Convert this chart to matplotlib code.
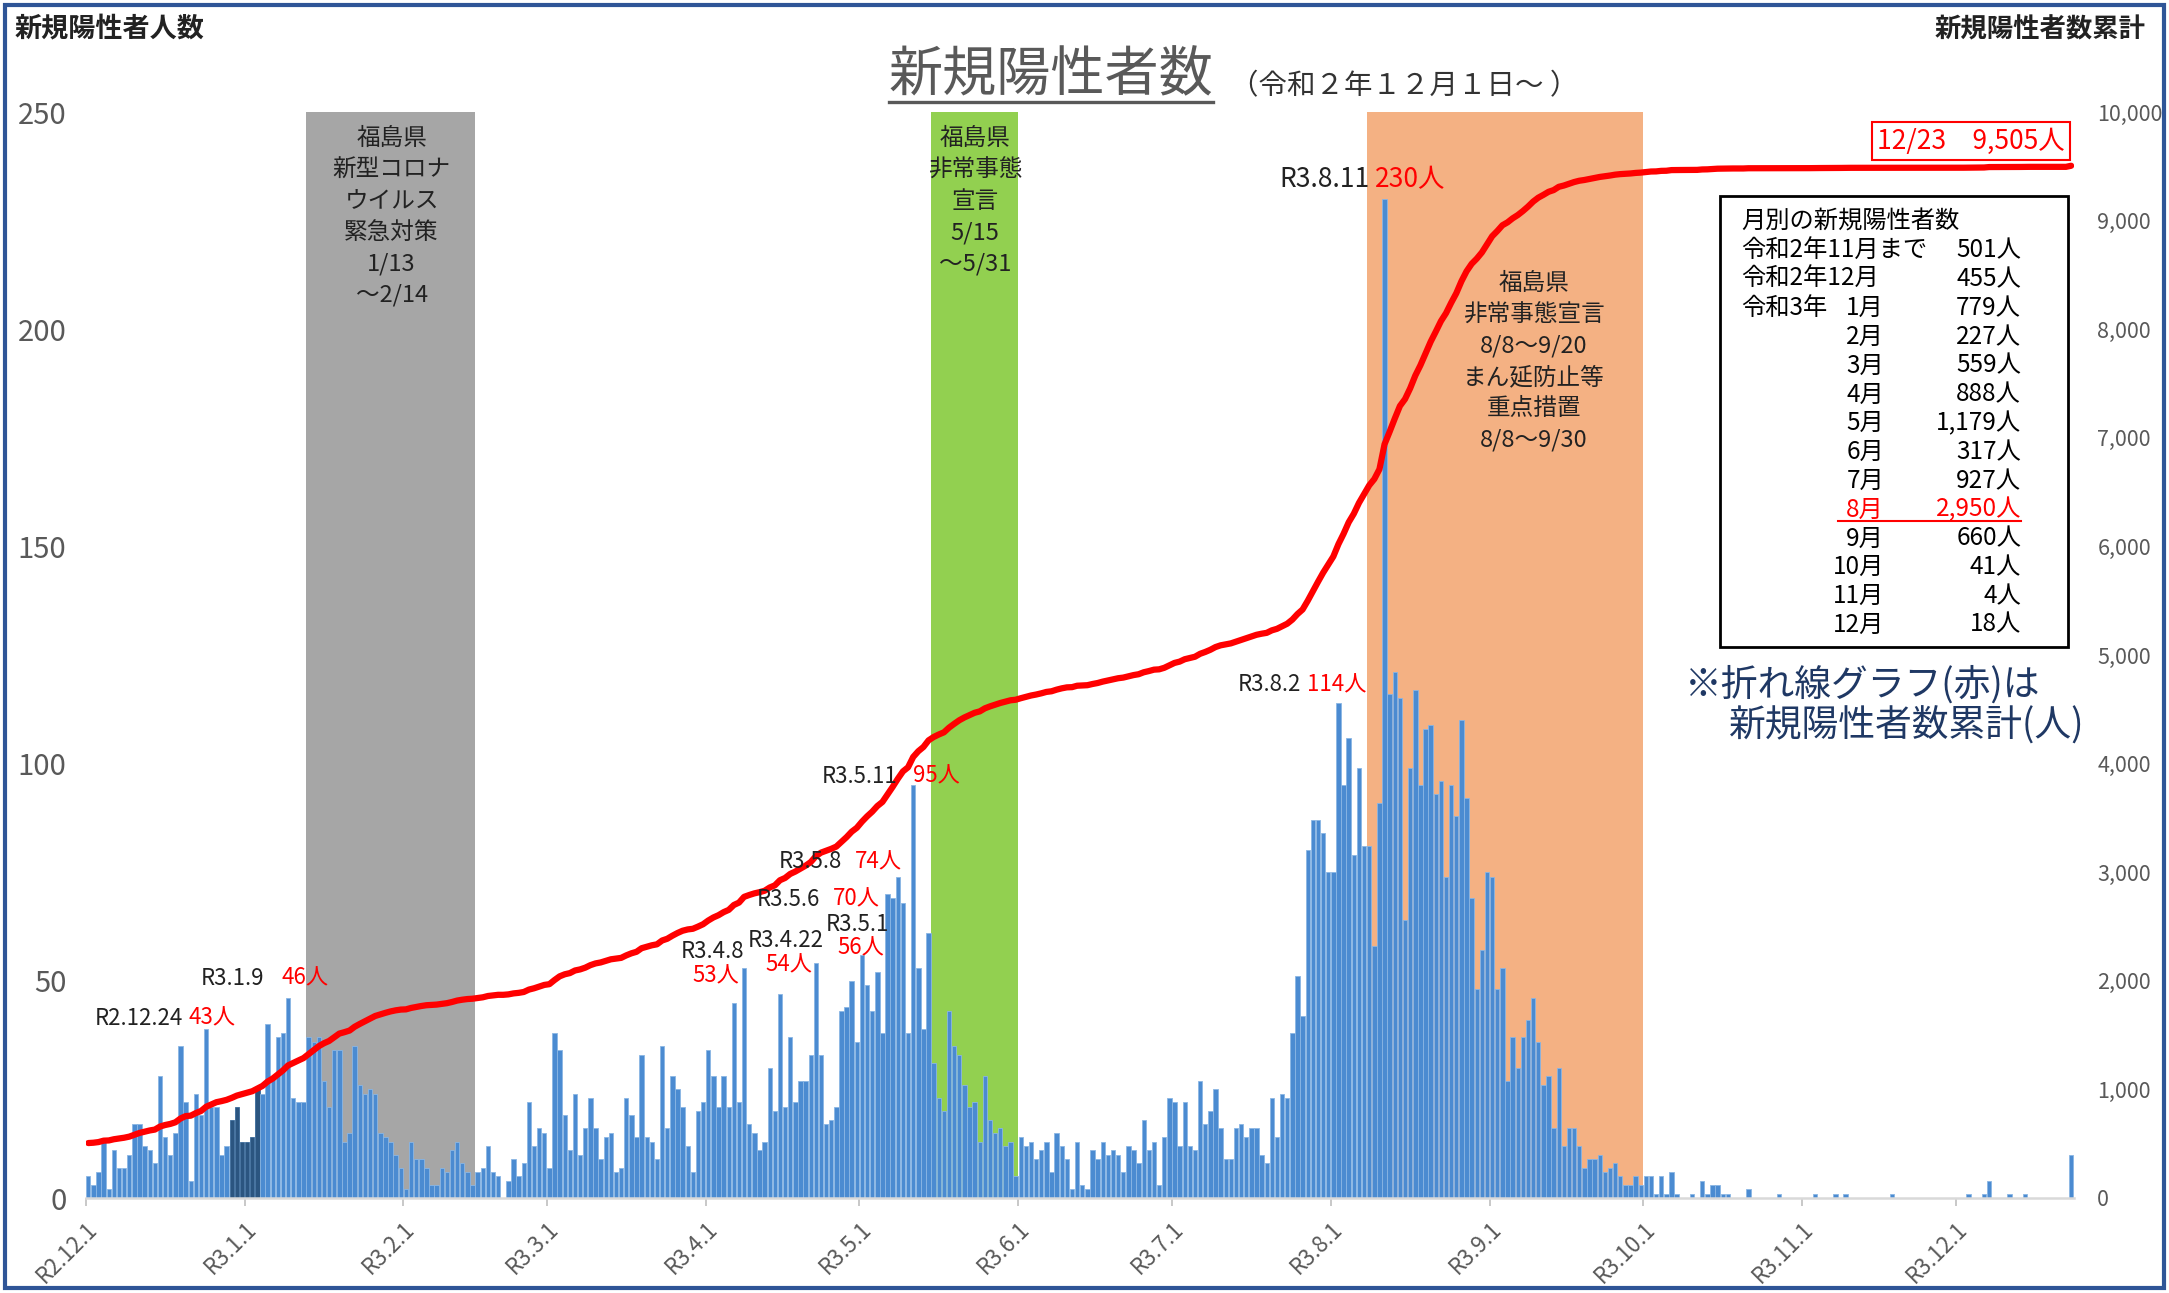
import numpy as np
import matplotlib
matplotlib.use('Agg')
import matplotlib.pyplot as plt
from matplotlib.patches import Rectangle
from matplotlib.lines import Line2D
from matplotlib.ticker import FuncFormatter

plt.rcParams['font.family'] = ['Noto Sans CJK JP', 'DejaVu Sans']

# daily new positives, R2.12.1 - R3.12.23
dec20 = [5, 3, 6, 13, 2, 11, 7, 7, 10, 17, 17, 12, 11, 8, 28, 14, 10, 15, 35, 22, 4, 24, 19, 39, 21, 21, 10, 12, 18, 21, 13]
jan21 = [13, 14, 25, 24, 40, 28, 37, 38, 46, 23, 22, 22, 37, 36, 37, 27, 21, 34, 34, 13, 15, 35, 26, 24, 25, 24, 15, 14, 13, 10, 7]
feb21 = [2, 13, 9, 9, 7, 3, 3, 7, 6, 11, 13, 8, 6, 3, 6, 7, 12, 6, 5, 0, 4, 9, 5, 8, 22, 12, 16, 15]
mar21 = [7, 38, 34, 19, 11, 24, 10, 16, 23, 16, 9, 14, 15, 6, 7, 23, 19, 14, 33, 14, 13, 9, 35, 16, 28, 25, 21, 12, 6, 20, 22]
apr21 = [34, 28, 21, 28, 21, 45, 22, 53, 17, 15, 11, 13, 30, 20, 47, 21, 37, 22, 27, 27, 33, 54, 33, 17, 18, 21, 43, 44, 50, 36]
may21 = [56, 49, 43, 52, 38, 70, 69, 74, 68, 38, 95, 53, 39, 61, 31, 23, 20, 43, 35, 33, 26, 21, 22, 13, 28, 18, 15, 16, 12, 13, 5]
jun21 = [14, 12, 13, 9, 11, 13, 6, 15, 12, 9, 2, 13, 3, 2, 11, 9, 13, 10, 11, 10, 6, 12, 11, 8, 18, 11, 13, 3, 14, 23]
jul21 = [22, 12, 22, 12, 11, 27, 17, 20, 25, 16, 9, 9, 16, 17, 14, 16, 16, 10, 8, 23, 14, 24, 23, 38, 51, 42, 80, 87, 87, 84, 75]
aug21 = [75, 114, 95, 106, 79, 99, 81, 81, 58, 91, 230, 116, 121, 115, 64, 99, 117, 95, 108, 109, 93, 96, 74, 95, 88, 110, 92, 69, 48, 57, 75]
sep21 = [74, 48, 53, 27, 37, 30, 37, 41, 46, 36, 26, 28, 16, 30, 12, 16, 16, 12, 7, 9, 9, 10, 6, 7, 8, 5, 3, 3, 5, 3]
oct21 = [5, 5, 1, 5, 1, 6, 1, 0, 0, 1, 0, 4, 1, 3, 3, 1, 1, 0, 0, 0, 2, 0, 0, 0, 0, 0, 1, 0, 0, 0, 0]
nov21 = [0, 0, 1, 0, 0, 0, 1, 0, 1, 0, 0, 0, 0, 0, 0, 0, 0, 1, 0, 0, 0, 0, 0, 0, 0, 0, 0, 0, 0, 0]
dec21 = [0, 0, 1, 0, 0, 1, 4, 0, 0, 0, 1, 0, 0, 1, 0, 0, 0, 0, 0, 0, 0, 0, 10]

months = [dec20, jan21, feb21, mar21, apr21, may21, jun21, jul21, aug21, sep21, oct21, nov21, dec21]
month_labels = ['R2.12.1', 'R3.1.1', 'R3.2.1', 'R3.3.1', 'R3.4.1', 'R3.5.1', 'R3.6.1',
                'R3.7.1', 'R3.8.1', 'R3.9.1', 'R3.10.1', 'R3.11.1', 'R3.12.1']
before_dec = 501  # 令和2年11月まで

start = np.datetime64('2020-12-01')
def day(s):
    return int((np.datetime64(s) - start).astype(int))

daily = np.concatenate([np.array(m) for m in months])
cum = before_dec + np.cumsum(daily)
days = np.arange(len(daily))
month_start = np.concatenate([[0], np.cumsum([len(m) for m in months])[:-1]])

dark_days = range(day('2020-12-29'), day('2021-01-03') + 1)
spans = [(day('2021-01-13'), day('2021-02-14'), '#a6a6a6'),
         (day('2021-05-15'), day('2021-05-31'), '#92d050'),
         (day('2021-08-08'), day('2021-09-30'), '#f4b183')]

fig = plt.figure(figsize=(21.69, 12.93), dpi=100)
ax = fig.add_axes([85.7 / 2169, 1 - 1198 / 1293, 1988 / 2169, 1086 / 1293])
ax2 = ax.twinx()

for s, e, c in spans:
    ax.axvspan(s - 0.5, e + 0.5, color=c, lw=0, zorder=0)

face = ['#2b5580' if d in dark_days else '#4b8bd1' for d in days]
edge = ['#3a6a9a' if d in dark_days else '#8ab6e4' for d in days]
ax.bar(days, daily, width=0.86, color=face, edgecolor=edge, linewidth=0.6, zorder=2)

ax2.plot(days, cum, color='#ff0000', lw=4.5, solid_capstyle='round', zorder=3)

ax.set_xlim(-0.5, len(daily) - 0.5)
ax.set_ylim(0, 250)
ax.set_yticks(range(0, 251, 50))
ax2.set_ylim(0, 10000)
ax2.set_yticks(range(0, 10001, 1000))
ax2.yaxis.set_major_formatter(FuncFormatter(lambda v, p: f'{int(v):,}'))

ax.set_xticks(month_start - 0.5)
ax.set_xticklabels(month_labels, rotation=45, ha='right', va='top', rotation_mode='anchor')
ax.tick_params(axis='x', length=6, color='#bfbfbf', width=1.2, labelsize=16, labelcolor='#595959', pad=8)
ax.tick_params(axis='y', length=0, labelsize=21, labelcolor='#595959', pad=14)
ax2.tick_params(axis='y', length=0, labelsize=15.5, labelcolor='#595959', pad=17)
for a in (ax, ax2):
    for sp in a.spines.values():
        sp.set_visible(False)
ax.spines['bottom'].set_visible(True)
ax.spines['bottom'].set_color('#d9d9d9')
ax.spines['bottom'].set_linewidth(1.8)
ax.set_zorder(1)
ax2.set_zorder(2)
ax.patch.set_visible(False)

# shaded-period captions
def stack(x, y0, lines, dy=7.2, size=17):
    for k, s in enumerate(lines):
        ax2.text(x, (y0 - k * dy) * 40, s, ha='center', va='center', fontsize=size, color='#222222', zorder=5)

stack(59.2, 243.8, ['福島県', '新型コロナ', 'ウイルス', '緊急対策', '1/13', '～2/14'])
stack(173.1, 243.8, ['福島県', '非常事態', '宣言', '5/15', '～5/31'])
stack(282.1, 210.5, ['福島県', '非常事態宣言', '8/8～9/20', 'まん延防止等', '重点措置', '8/8～9/30'])

# peak labels
def label(x, y, black, red, gap=4, size=16):
    t = ax2.text(x, y * 40, black, ha='left', va='center', fontsize=size, color='#222222', zorder=5)
    ax2.annotate(red, xy=(1, 0.5), xycoords=t, xytext=(gap, 0), textcoords='offset points',
                 ha='left', va='center', fontsize=size, color='#ff0000', zorder=5)

label(1.2, 41.4, 'R2.12.24', '43人')
label(22.0, 50.6, 'R3.1.9', '46人', gap=12)
label(130.5, 68.8, 'R3.5.6', '70人', gap=9)
label(134.8, 77.4, 'R3.5.8', '74人', gap=9)
label(143.2, 97.1, 'R3.5.11', '95人', gap=11)
label(224.4, 118.2, 'R3.8.2', '114人')
label(232.5, 234.4, 'R3.8.11', '230人', size=19)

def label2(x, y, black, red, size=16):
    ax2.text(x, y * 40, black, ha='center', va='center', fontsize=size, color='#222222', zorder=5)
    ax2.text(x + 0.5, (y - 5.5) * 40, red, ha='center', va='center', fontsize=size, color='#ff0000', zorder=5)

label2(121.9, 56.7, 'R3.4.8', '53人')
label2(136.2, 59.2, 'R3.4.22', '54人')
label2(150.2, 63.0, 'R3.5.1', '56人')

ax2.text(367.5, 243.3 * 40, f'12/23\u3000{cum[-1]:,}人', ha='center', va='center', fontsize=19,
         color='#ff0000', zorder=5,
         bbox=dict(boxstyle='square,pad=0.2', fc='white', ec='#ff0000', lw=1.5))

# headers
fig.text(15 / 2169, 1 - 28 / 1293, '新規陽性者人数', fontsize=19.5, weight='bold', ha='left', va='center', color='#222222')
fig.text(2146 / 2169, 1 - 30 / 1293, '新規陽性者数累計', fontsize=19, weight='bold', ha='right', va='center', color='#222222')
title = fig.text(1051 / 2169, 1 - 76 / 1293, '新規陽性者数', fontsize=39, ha='center', va='center', color='#595959')
fig.text(1230 / 2169, 1 - 86 / 1293, '（令和２年１２月１日～ ）', fontsize=20.5, ha='left', va='center', color='#333333')

# monthly table
monthly = [sum(m) for m in months]
tbl_month = [f'{k}月' for k in range(1, 13)]
tbl_count = [f'{v:,}人' for v in monthly[1:]]

fig.patches.append(Rectangle((1720 / 2169, 1 - 647 / 1293), 348 / 2169, 451 / 1293, transform=fig.transFigure,
                             fc='white', ec='black', lw=2, zorder=1))
xl, xm, xr = 1741 / 2169, 1884 / 2169, 2021 / 2169
def row_y(r):
    return 1 - (221.7 + 28.79 * r) / 1293
tk = dict(fontsize=17.5, va='center', color='black')
fig.text(xl, row_y(0), '月別の新規陽性者数', ha='left', **tk)
fig.text(xl, row_y(1), '令和2年11月まで', ha='left', **tk)
fig.text(xr, row_y(1), f'{before_dec}人', ha='right', **tk)
fig.text(xl, row_y(2), '令和2年12月', ha='left', **tk)
fig.text(xr, row_y(2), f'{monthly[0]}人', ha='right', **tk)
fig.text(xl, row_y(3), '令和3年', ha='left', **tk)
hl = []
for k, (mname, cnt) in enumerate(zip(tbl_month, tbl_count)):
    col = '#ff0000' if mname == '8月' else 'black'
    a = fig.text(xm, row_y(3 + k), mname, ha='right', fontsize=17.5, va='center', color=col)
    b = fig.text(xr, row_y(3 + k), cnt, ha='right', fontsize=17.5, va='center', color=col)
    if mname == '8月':
        hl = [a, b]

fig.text(1685 / 2169, 1 - 685 / 1293, '※折れ線グラフ(赤)は', fontsize=26.5, ha='left', va='center', color='#1f3864')
fig.text(1729 / 2169, 1 - 726 / 1293, '新規陽性者数累計(人)', fontsize=26.5, ha='left', va='center', color='#1f3864')

# outer frame
fig.patches.append(Rectangle((0.0025, 0.0035), 0.995, 0.9925, transform=fig.transFigure,
                             fill=False, ec='#2f5597', lw=3, zorder=10))

# underlines
fig.canvas.draw()
inv = fig.transFigure.inverted()
bb = title.get_window_extent()
(x0, y0), (x1, y1) = inv.transform([(bb.x0, bb.y0), (bb.x1, bb.y1)])
fig.add_artist(Line2D([x0, x1], [y0 + 0.001, y0 + 0.001], color='#595959', lw=2.4))
ba, bb2 = hl[0].get_window_extent(), hl[1].get_window_extent()
(x0, y0), (x1, _) = inv.transform([(ba.x0, ba.y0), (bb2.x1, bb2.y0)])
fig.add_artist(Line2D([x0 - 0.004, x1], [y0 + 0.001, y0 + 0.001], color='#ff0000', lw=1.5))

fig.savefig('out.png', dpi=100)
